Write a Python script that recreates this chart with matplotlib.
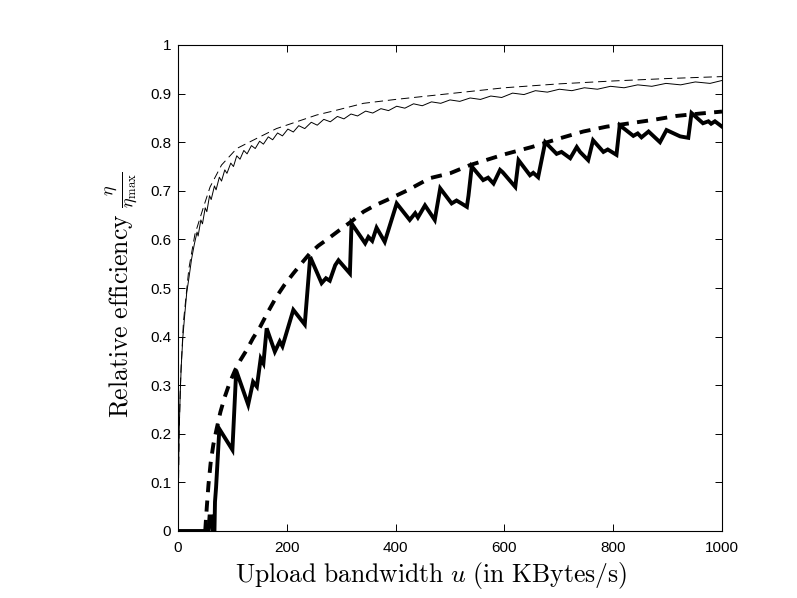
import matplotlib
matplotlib.use("Agg")
import matplotlib.pyplot as plt

plt.rcParams['mathtext.fontset'] = 'cm'
plt.rcParams['font.family'] = ['Liberation Sans', 'DejaVu Sans']
plt.rcParams['lines.scale_dashes'] = False

# thin solid (jagged, upper)
thin_x = [0, 1, 2, 4, 6, 9, 12, 16, 20, 25, 30,
          35, 37, 42, 45, 50, 53, 58, 61, 67, 70, 76, 80, 86, 90,
          97, 102, 108, 114, 121, 127, 135, 142, 150, 157, 166, 174,
          183, 192, 202, 212, 222, 233, 245, 256, 268, 280, 293, 305,
          318, 330, 345, 358, 373, 387, 402, 417, 433, 449, 466, 483,
          500, 518, 537, 556, 575, 595, 615, 636, 657, 679, 701, 724,
          747, 771, 795, 820, 845, 871, 897, 924, 951, 978, 1000]
thin_y = [0, 0.12, 0.2, 0.28, 0.34, 0.40, 0.44, 0.49, 0.52, 0.56, 0.59,
          0.615, 0.607, 0.64, 0.632, 0.665, 0.657, 0.69, 0.682, 0.71, 0.702,
          0.728, 0.72, 0.743, 0.736, 0.757, 0.75, 0.772, 0.765, 0.783, 0.776,
          0.793, 0.787, 0.802, 0.796, 0.811, 0.805, 0.819, 0.813, 0.827, 0.821,
          0.834, 0.828, 0.841, 0.835, 0.847, 0.842, 0.853, 0.848, 0.858, 0.854,
          0.864, 0.86, 0.869, 0.865, 0.874, 0.87, 0.879, 0.875, 0.883, 0.88,
          0.887, 0.884, 0.891, 0.888, 0.895, 0.892, 0.901, 0.898, 0.906, 0.903,
          0.909, 0.906, 0.912, 0.909, 0.915, 0.912, 0.918, 0.915, 0.921, 0.918,
          0.924, 0.921, 0.927]

# thin dashed (smooth, upper)
thind_x = [0, 2, 5, 10, 20, 31, 47, 59, 80, 108, 145, 181, 218, 255,
           292, 341, 400, 500, 600, 700, 800, 900, 1000]
thind_y = [0, 0.2, 0.32, 0.43, 0.54, 0.61, 0.667, 0.708, 0.753, 0.787,
           0.808, 0.828, 0.842, 0.856, 0.866, 0.88, 0.888, 0.90, 0.912,
           0.92, 0.926, 0.931, 0.935]

# thick solid (sawtooth, lower)
thick_x = [0, 56, 58, 62, 64, 67, 68, 70, 76, 100, 107, 129, 138, 145,
           152, 157, 163, 178, 187, 192, 212, 233, 243, 264, 272, 279,
           289, 295, 316, 319, 344, 350, 357, 365, 380, 402, 426, 436,
           441, 454, 472, 482, 503, 512, 521, 531, 534, 540, 561, 570,
           580, 592, 597, 620, 626, 647, 653, 662, 675, 696, 705, 721,
           733, 739, 754, 763, 782, 790, 806, 812, 837, 845, 852, 865,
           886, 898, 923, 938, 944, 965, 975, 980, 987, 1000]
thick_y = [0, 0, 0.03, 0.03, 0.0, 0.0, 0.06, 0.09, 0.21, 0.167, 0.33,
           0.26, 0.307, 0.297, 0.355, 0.345, 0.417, 0.369, 0.39, 0.38,
           0.455, 0.425, 0.564, 0.51, 0.52, 0.515, 0.547, 0.557, 0.53,
           0.633, 0.592, 0.605, 0.597, 0.624, 0.595, 0.674, 0.64, 0.654,
           0.645, 0.67, 0.64, 0.705, 0.674, 0.68, 0.674, 0.667, 0.69, 0.75,
           0.722, 0.727, 0.715, 0.743, 0.738, 0.708, 0.763, 0.732, 0.737,
           0.728, 0.80, 0.776, 0.78, 0.767, 0.79, 0.78, 0.763, 0.804, 0.78,
           0.785, 0.774, 0.835, 0.813, 0.818, 0.81, 0.822, 0.80, 0.825,
           0.812, 0.809, 0.86, 0.839, 0.843, 0.838, 0.843, 0.832]

# thick dashed (smooth, lower)
thickd_x = [50, 53, 56, 60, 65, 71, 78, 86, 95, 105, 115, 126, 138, 151,
            165, 181, 196, 212, 228, 243, 258, 273, 298, 320, 341, 362,
            384, 420, 463, 500, 537, 600, 650, 702, 745, 788, 831, 874,
            916, 960, 1000]
thickd_y = [0, 0.05, 0.095, 0.14, 0.178, 0.21, 0.245, 0.276, 0.305, 0.331,
            0.352, 0.372, 0.397, 0.42, 0.45, 0.482, 0.507, 0.53, 0.552,
            0.572, 0.587, 0.599, 0.62, 0.638, 0.657, 0.67, 0.681, 0.70,
            0.726, 0.736, 0.753, 0.775, 0.79, 0.808, 0.822, 0.832, 0.839,
            0.846, 0.854, 0.859, 0.863]

fig = plt.figure(figsize=(7.97, 5.98), dpi=100)
ax = fig.add_axes([178 / 797, 1 - 531 / 598, 544 / 797, 486 / 598])

ax.plot(thin_x, thin_y, color='k', lw=0.7)
ax.plot(thind_x, thind_y, color='k', lw=0.7, dashes=(6, 3.5))
ax.plot(thick_x, thick_y, color='k', lw=2.8, solid_joinstyle='miter')
ax.plot(thickd_x, thickd_y, color='k', lw=2.8, dashes=(8, 6))

ax.set_xlim(0, 1000)
ax.set_ylim(0, 1)
ax.set_xticks([0, 200, 400, 600, 800, 1000])
ax.set_yticks([i / 10 for i in range(11)])
ax.set_yticklabels(['0', '0.1', '0.2', '0.3', '0.4', '0.5', '0.6', '0.7', '0.8', '0.9', '1'])
ax.tick_params(direction='in', length=5, width=0.7, top=True, right=True, labelsize=11)
ax.tick_params(axis='x', pad=7)
ax.tick_params(axis='y', pad=5)
for s in ax.spines.values():
    s.set_linewidth(0.8)

ax.set_xlabel(r"$\mathrm{Upload\ bandwidth}\ u\ \mathrm{(in\ KBytes/s)}$", fontsize=18.5)
ax.xaxis.set_label_coords(0.466, -0.06)
ax.set_ylabel(r"$\mathrm{Relative\ efficiency}\ \frac{\eta}{\eta_{\max}}$", fontsize=18.5)
ax.yaxis.set_label_coords(-0.07, 0.485)

fig.savefig("out.png", dpi=100)
